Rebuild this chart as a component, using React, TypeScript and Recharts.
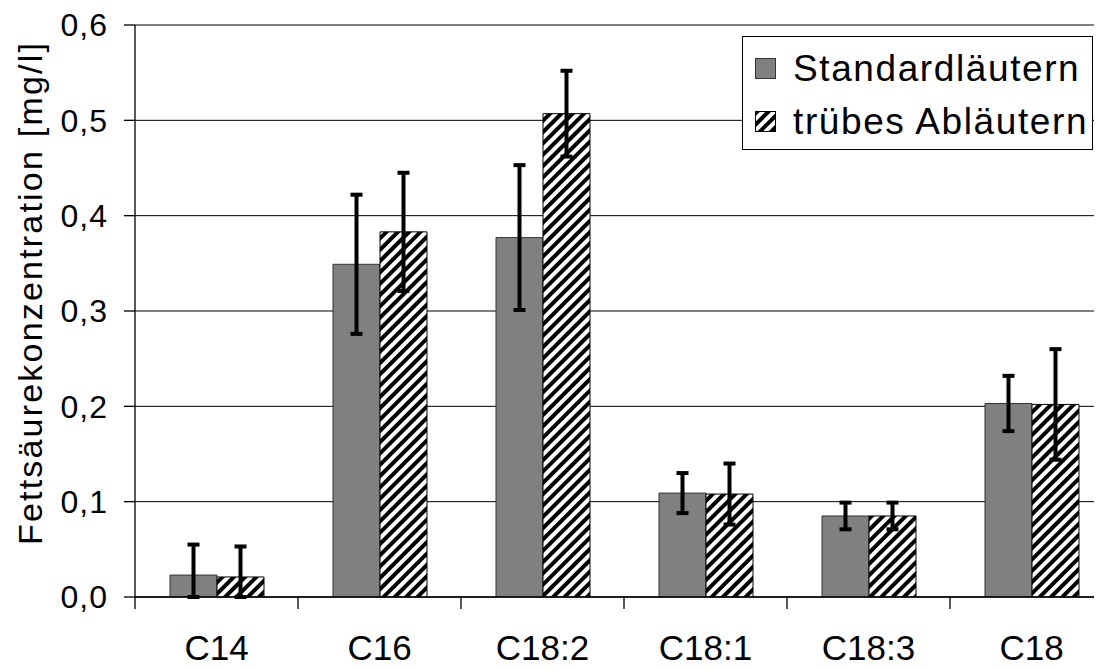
import React from 'react';
import { BarChart, Bar, XAxis, YAxis, CartesianGrid, ErrorBar } from 'recharts';

const categories = ['C14', 'C16', 'C18:2', 'C18:1', 'C18:3', 'C18'];
const standardValues = [0.023, 0.349, 0.377, 0.109, 0.085, 0.203];
const standardErrors = [0.032, 0.073, 0.076, 0.021, 0.014, 0.029];
const truebValues = [0.021, 0.383, 0.507, 0.108, 0.085, 0.202];
const truebErrors = [0.032, 0.062, 0.045, 0.032, 0.014, 0.058];
const yTicks = [0, 0.1, 0.2, 0.3, 0.4, 0.5, 0.6];
const seriesNames = ['Standardläutern', 'trübes Abläutern'];
const yLabel = 'Fettsäurekonzentration [mg/l]';

// error bars are cut at the axis (y = 0), as in the reference
const data = categories.map((name, i) => ({
  name,
  std: standardValues[i],
  stdErr: [Math.min(standardErrors[i], standardValues[i]), standardErrors[i]],
  tr: truebValues[i],
  trErr: [Math.min(truebErrors[i], truebValues[i]), truebErrors[i]],
}));

const FONT = '"Liberation Sans", Arial, Helvetica, sans-serif';
const CHART_W = 1110;
const CHART_H = 662;
const Y_AXIS_W = 127;
const MARGIN = { top: 17, right: 5, left: 0, bottom: 0 };
const PLOT_W = CHART_W - Y_AXIS_W - MARGIN.right;
const HALF_BAND = PLOT_W / categories.length / 2;

const XTick = (props: any) => {
  const { x, y, payload, index } = props;
  return (
    <g>
      <line x1={x - HALF_BAND} y1={y} x2={x - HALF_BAND} y2={y + 12} stroke="#000" strokeWidth={1.3} />
      {index === categories.length - 1 && (
        <line x1={x + HALF_BAND} y1={y} x2={x + HALF_BAND} y2={y + 12} stroke="#000" strokeWidth={1.3} />
      )}
      <text x={x} y={y + 63} textAnchor="middle" fontFamily={FONT} fontSize={35} fill="#000">
        {payload.value}
      </text>
    </g>
  );
};

const YLabel = (props: any) => {
  const vb = props.viewBox || { x: 0, y: 0, width: 0, height: 0 };
  const cx = 34;
  const cy = vb.y + vb.height / 2 - 18;
  return (
    <text
      x={cx}
      y={cy}
      transform={`rotate(-90, ${cx}, ${cy})`}
      textAnchor="middle"
      fontFamily={FONT}
      fontSize={34}
      letterSpacing={2.2}
      fill="#000"
    >
      {yLabel}
    </text>
  );
};

const LegendBox = () => (
  <div
    style={{
      position: 'absolute',
      left: 734,
      top: 28,
      width: 351,
      height: 114,
      boxSizing: 'border-box',
      border: '1px solid #000',
      background: '#fff',
      fontFamily: FONT,
      fontSize: 37,
      letterSpacing: 1.6,
      color: '#000',
    }}
  >
    {seriesNames.map((n, i) => (
      <div
        key={n}
        style={{ position: 'absolute', left: 12, top: 12 + i * 53, height: 40, display: 'flex', alignItems: 'center', whiteSpace: 'nowrap' }}
      >
        <svg width={22} height={22} style={{ marginRight: 16 }}>
          <rect
            x={0.5}
            y={0.5}
            width={20}
            height={20}
            fill={i === 0 ? '#808080' : 'url(#hatch)'}
            stroke={i === 0 ? '#333' : '#000'}
            strokeWidth={1}
          />
        </svg>
        <span>{n}</span>
      </div>
    ))}
  </div>
);

export default function App() {
  return (
    <div style={{ position: 'relative', width: 1094, height: CHART_H, overflow: 'hidden', background: '#fff' }}>
      <svg width={0} height={0} style={{ position: 'absolute' }}>
        <defs>
          <pattern id="hatch" patternUnits="userSpaceOnUse" width={8} height={8} patternTransform="rotate(45)">
            <rect x={0} y={0} width={8} height={8} fill="#fff" />
            <rect x={0} y={0} width={4} height={8} fill="#000" />
          </pattern>
        </defs>
      </svg>
      <BarChart width={CHART_W} height={CHART_H} data={data} margin={MARGIN} barGap={0} barSize={47}>
        <CartesianGrid horizontal vertical={false} stroke="#000" strokeWidth={1} />
        <XAxis
          dataKey="name"
          height={73}
          tickLine={false}
          tickSize={0}
          tickMargin={0}
          axisLine={{ stroke: '#000', strokeWidth: 1.3 }}
          tick={<XTick />}
          interval={0}
        />
        <YAxis
          width={Y_AXIS_W}
          domain={[0, 0.6]}
          allowDataOverflow
          ticks={yTicks}
          interval={0}
          tickSize={11}
          tickMargin={16}
          axisLine={{ stroke: '#000', strokeWidth: 1.3 }}
          tickLine={{ stroke: '#000', strokeWidth: 1.3 }}
          tick={{ fill: '#000', fontFamily: FONT, fontSize: 32, letterSpacing: 1 }}
          tickFormatter={(v: number) => v.toFixed(1).replace('.', ',')}
          label={<YLabel />}
        />
        <Bar dataKey="std" name={seriesNames[0]} fill="#808080" stroke="#333" strokeWidth={1} isAnimationActive={false}>
          <ErrorBar dataKey="stdErr" width={6} stroke="#000" strokeWidth={4} direction="y" />
        </Bar>
        <Bar dataKey="tr" name={seriesNames[1]} fill="url(#hatch)" stroke="#000" strokeWidth={1} isAnimationActive={false}>
          <ErrorBar dataKey="trErr" width={6} stroke="#000" strokeWidth={4} direction="y" />
        </Bar>
      </BarChart>
      <LegendBox />
    </div>
  );
}
